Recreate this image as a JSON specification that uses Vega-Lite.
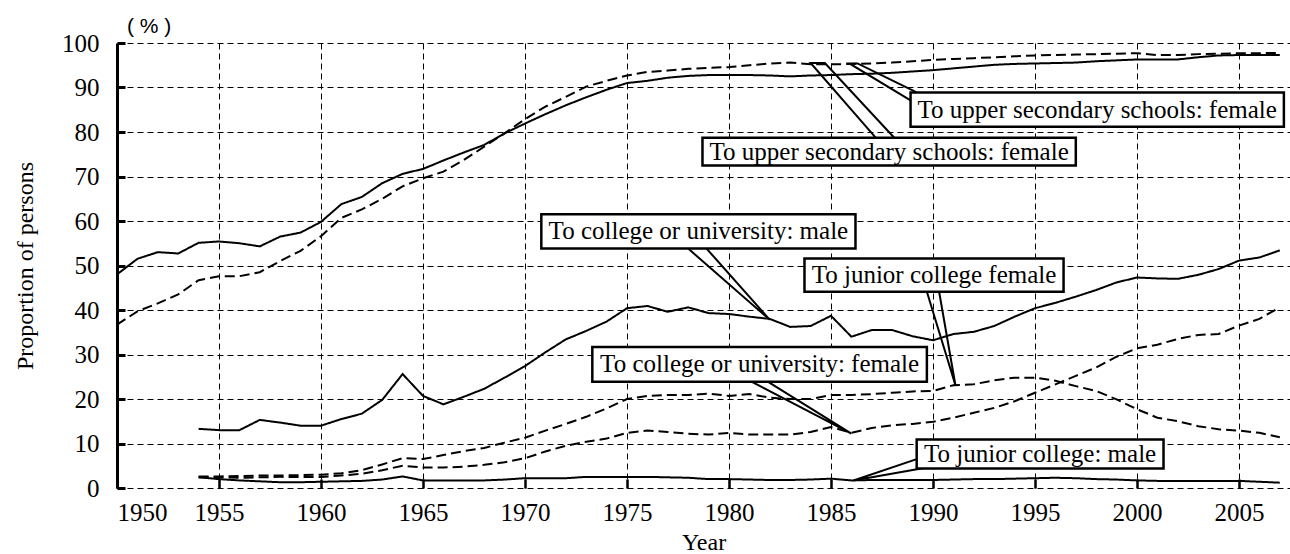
{
  "$schema": "https://vega.github.io/schema/vega-lite/v6.json",
  "width": 1173,
  "height": 445,
  "autosize": {"type": "none"},
  "padding": {"left": 117, "top": 43, "right": 0, "bottom": 66},
  "background": "white",
  "config": {
    "view": {"stroke": null},
    "font": "Liberation Serif, DejaVu Serif, serif"
  },
  "title": {
    "text": "( % )",
    "anchor": "start",
    "frame": "group",
    "font": "Liberation Sans, DejaVu Sans, sans-serif",
    "fontSize": 21,
    "fontWeight": "normal",
    "color": "black",
    "dx": 10,
    "offset": -6
  },
  "datasets": {
    "series": [
      {"year": 1950, "us_m": 48.0, "us_f": 36.7, "cu_m": null, "cu_f": null, "jc_m": null, "jc_f": null},
      {"year": 1951, "us_m": 51.5, "us_f": 39.7, "cu_m": null, "cu_f": null, "jc_m": null, "jc_f": null},
      {"year": 1952, "us_m": 53.0, "us_f": 41.5, "cu_m": null, "cu_f": null, "jc_m": null, "jc_f": null},
      {"year": 1953, "us_m": 52.7, "us_f": 43.5, "cu_m": null, "cu_f": null, "jc_m": null, "jc_f": null},
      {"year": 1954, "us_m": 55.1, "us_f": 46.7, "cu_m": 13.3, "cu_f": 2.4, "jc_m": 2.4, "jc_f": 2.6},
      {"year": 1955, "us_m": 55.4, "us_f": 47.6, "cu_m": 13.0, "cu_f": 2.4, "jc_m": 2.0, "jc_f": 2.6},
      {"year": 1956, "us_m": 55.0, "us_f": 47.6, "cu_m": 13.0, "cu_f": 2.3, "jc_m": 1.7, "jc_f": 2.7},
      {"year": 1957, "us_m": 54.3, "us_f": 48.5, "cu_m": 15.3, "cu_f": 2.4, "jc_m": 1.5, "jc_f": 2.8},
      {"year": 1958, "us_m": 56.5, "us_f": 51.0, "cu_m": 14.7, "cu_f": 2.5, "jc_m": 1.3, "jc_f": 2.8},
      {"year": 1959, "us_m": 57.4, "us_f": 53.3, "cu_m": 14.0, "cu_f": 2.5, "jc_m": 1.3, "jc_f": 2.9},
      {"year": 1960, "us_m": 59.8, "us_f": 56.6, "cu_m": 14.0, "cu_f": 2.5, "jc_m": 1.4, "jc_f": 3.0},
      {"year": 1961, "us_m": 63.8, "us_f": 60.7, "cu_m": 15.5, "cu_f": 2.8, "jc_m": 1.5, "jc_f": 3.3},
      {"year": 1962, "us_m": 65.4, "us_f": 62.6, "cu_m": 16.7, "cu_f": 3.2, "jc_m": 1.6, "jc_f": 4.0},
      {"year": 1963, "us_m": 68.5, "us_f": 65.0, "cu_m": 19.8, "cu_f": 4.0, "jc_m": 1.9, "jc_f": 5.3},
      {"year": 1964, "us_m": 70.6, "us_f": 67.8, "cu_m": 25.6, "cu_f": 5.0, "jc_m": 2.6, "jc_f": 6.7},
      {"year": 1965, "us_m": 71.7, "us_f": 69.6, "cu_m": 20.7, "cu_f": 4.6, "jc_m": 1.7, "jc_f": 6.5},
      {"year": 1966, "us_m": 73.6, "us_f": 71.1, "cu_m": 18.8, "cu_f": 4.6, "jc_m": 1.7, "jc_f": 7.4},
      {"year": 1967, "us_m": 75.4, "us_f": 73.7, "cu_m": 20.5, "cu_f": 4.8, "jc_m": 1.7, "jc_f": 8.3},
      {"year": 1968, "us_m": 77.1, "us_f": 76.7, "cu_m": 22.3, "cu_f": 5.2, "jc_m": 1.7, "jc_f": 9.0},
      {"year": 1969, "us_m": 79.7, "us_f": 79.7, "cu_m": 24.8, "cu_f": 5.8, "jc_m": 1.9, "jc_f": 10.2},
      {"year": 1970, "us_m": 81.9, "us_f": 82.9, "cu_m": 27.4, "cu_f": 6.7, "jc_m": 2.2, "jc_f": 11.3},
      {"year": 1971, "us_m": 84.0, "us_f": 85.7, "cu_m": 30.5, "cu_f": 8.2, "jc_m": 2.2, "jc_f": 12.9},
      {"year": 1972, "us_m": 86.0, "us_f": 87.9, "cu_m": 33.4, "cu_f": 9.5, "jc_m": 2.2, "jc_f": 14.4},
      {"year": 1973, "us_m": 87.8, "us_f": 90.2, "cu_m": 35.3, "cu_f": 10.4, "jc_m": 2.5, "jc_f": 16.0},
      {"year": 1974, "us_m": 89.5, "us_f": 91.5, "cu_m": 37.4, "cu_f": 11.1, "jc_m": 2.5, "jc_f": 17.9},
      {"year": 1975, "us_m": 91.0, "us_f": 92.7, "cu_m": 40.4, "cu_f": 12.4, "jc_m": 2.5, "jc_f": 20.0},
      {"year": 1976, "us_m": 91.5, "us_f": 93.5, "cu_m": 40.9, "cu_f": 12.9, "jc_m": 2.5, "jc_f": 20.7},
      {"year": 1977, "us_m": 92.2, "us_f": 93.8, "cu_m": 39.6, "cu_f": 12.6, "jc_m": 2.4, "jc_f": 20.9},
      {"year": 1978, "us_m": 92.6, "us_f": 94.2, "cu_m": 40.6, "cu_f": 12.2, "jc_m": 2.3, "jc_f": 20.9},
      {"year": 1979, "us_m": 92.8, "us_f": 94.4, "cu_m": 39.3, "cu_f": 12.0, "jc_m": 2.0, "jc_f": 21.2},
      {"year": 1980, "us_m": 92.8, "us_f": 94.6, "cu_m": 39.1, "cu_f": 12.4, "jc_m": 2.0, "jc_f": 20.7},
      {"year": 1981, "us_m": 92.8, "us_f": 95.0, "cu_m": 38.5, "cu_f": 12.0, "jc_m": 1.9, "jc_f": 21.1},
      {"year": 1982, "us_m": 92.7, "us_f": 95.4, "cu_m": 38.0, "cu_f": 12.0, "jc_m": 1.8, "jc_f": 20.3},
      {"year": 1983, "us_m": 92.5, "us_f": 95.6, "cu_m": 36.2, "cu_f": 12.0, "jc_m": 1.8, "jc_f": 20.0},
      {"year": 1984, "us_m": 92.7, "us_f": 95.2, "cu_m": 36.4, "cu_f": 12.6, "jc_m": 1.9, "jc_f": 20.0},
      {"year": 1985, "us_m": 92.8, "us_f": 95.2, "cu_m": 38.7, "cu_f": 13.7, "jc_m": 2.1, "jc_f": 20.9},
      {"year": 1986, "us_m": 93.0, "us_f": 95.3, "cu_m": 34.0, "cu_f": 12.4, "jc_m": 1.7, "jc_f": 20.9},
      {"year": 1987, "us_m": 93.1, "us_f": 95.4, "cu_m": 35.5, "cu_f": 13.5, "jc_m": 1.8, "jc_f": 21.1},
      {"year": 1988, "us_m": 93.3, "us_f": 95.6, "cu_m": 35.5, "cu_f": 14.1, "jc_m": 1.8, "jc_f": 21.4},
      {"year": 1989, "us_m": 93.6, "us_f": 95.9, "cu_m": 34.1, "cu_f": 14.4, "jc_m": 1.8, "jc_f": 21.7},
      {"year": 1990, "us_m": 93.9, "us_f": 96.2, "cu_m": 33.2, "cu_f": 14.9, "jc_m": 1.8, "jc_f": 21.8},
      {"year": 1991, "us_m": 94.3, "us_f": 96.4, "cu_m": 34.6, "cu_f": 15.8, "jc_m": 1.9, "jc_f": 23.1},
      {"year": 1992, "us_m": 94.7, "us_f": 96.6, "cu_m": 35.1, "cu_f": 16.9, "jc_m": 2.0, "jc_f": 23.3},
      {"year": 1993, "us_m": 95.1, "us_f": 96.8, "cu_m": 36.4, "cu_f": 18.0, "jc_m": 2.0, "jc_f": 24.2},
      {"year": 1994, "us_m": 95.3, "us_f": 97.0, "cu_m": 38.5, "cu_f": 19.5, "jc_m": 2.1, "jc_f": 24.8},
      {"year": 1995, "us_m": 95.4, "us_f": 97.2, "cu_m": 40.4, "cu_f": 21.4, "jc_m": 2.2, "jc_f": 24.8},
      {"year": 1996, "us_m": 95.5, "us_f": 97.3, "cu_m": 41.6, "cu_f": 23.3, "jc_m": 2.3, "jc_f": 24.1},
      {"year": 1997, "us_m": 95.6, "us_f": 97.4, "cu_m": 43.0, "cu_f": 25.2, "jc_m": 2.2, "jc_f": 22.9},
      {"year": 1998, "us_m": 95.9, "us_f": 97.5, "cu_m": 44.5, "cu_f": 27.1, "jc_m": 2.0, "jc_f": 21.8},
      {"year": 1999, "us_m": 96.1, "us_f": 97.6, "cu_m": 46.2, "cu_f": 29.5, "jc_m": 1.9, "jc_f": 19.9},
      {"year": 2000, "us_m": 96.3, "us_f": 97.7, "cu_m": 47.3, "cu_f": 31.4, "jc_m": 1.7, "jc_f": 17.7},
      {"year": 2001, "us_m": 96.3, "us_f": 97.3, "cu_m": 47.1, "cu_f": 32.2, "jc_m": 1.6, "jc_f": 15.8},
      {"year": 2002, "us_m": 96.3, "us_f": 97.3, "cu_m": 47.0, "cu_f": 33.5, "jc_m": 1.6, "jc_f": 15.0},
      {"year": 2003, "us_m": 96.8, "us_f": 97.5, "cu_m": 47.9, "cu_f": 34.4, "jc_m": 1.6, "jc_f": 13.9},
      {"year": 2004, "us_m": 97.2, "us_f": 97.6, "cu_m": 49.2, "cu_f": 34.6, "jc_m": 1.6, "jc_f": 13.2},
      {"year": 2005, "us_m": 97.3, "us_f": 97.7, "cu_m": 51.1, "cu_f": 36.5, "jc_m": 1.6, "jc_f": 12.9},
      {"year": 2006, "us_m": 97.3, "us_f": 97.7, "cu_m": 51.8, "cu_f": 38.0, "jc_m": 1.4, "jc_f": 12.4},
      {"year": 2007, "us_m": 97.3, "us_f": 97.8, "cu_m": 53.4, "cu_f": 40.6, "jc_m": 1.2, "jc_f": 11.4}
    ],
    "wedges": [
      {"id": "w1", "ord": 1, "year": 1988.9, "value": 87.1},
      {"id": "w1", "ord": 2, "year": 1985.9, "value": 95.4},
      {"id": "w1", "ord": 3, "year": 1986.3, "value": 95.4},
      {"id": "w1", "ord": 4, "year": 1989.2, "value": 88.9},
      {"id": "w2", "ord": 1, "year": 1987.2, "value": 78.7},
      {"id": "w2", "ord": 2, "year": 1984.0, "value": 95.5},
      {"id": "w2", "ord": 3, "year": 1984.7, "value": 95.5},
      {"id": "w2", "ord": 4, "year": 1988.1, "value": 78.7},
      {"id": "w3", "ord": 1, "year": 1978.0, "value": 53.8},
      {"id": "w3", "ord": 2, "year": 1982.0, "value": 37.8},
      {"id": "w3", "ord": 3, "year": 1978.9, "value": 53.8},
      {"id": "w4", "ord": 1, "year": 1989.7, "value": 44.1},
      {"id": "w4", "ord": 2, "year": 1991.1, "value": 23.1},
      {"id": "w4", "ord": 3, "year": 1990.3, "value": 44.1},
      {"id": "w5", "ord": 1, "year": 1981.1, "value": 23.9},
      {"id": "w5", "ord": 2, "year": 1986.0, "value": 12.2},
      {"id": "w5", "ord": 3, "year": 1981.9, "value": 23.9},
      {"id": "w6", "ord": 1, "year": 1989.2, "value": 6.5},
      {"id": "w6", "ord": 2, "year": 1986.1, "value": 1.7},
      {"id": "w6", "ord": 3, "year": 1989.7, "value": 4.6}
    ],
    "boxes": [
      {"label": "To upper secondary schools: female", "year": 1988.9, "year2": 2007.2, "value": 81.2, "value2": 88.9, "cx": 1998.05, "cy": 85.05},
      {"label": "To upper secondary schools: female", "year": 1978.7, "year2": 1997.0, "value": 72.5, "value2": 78.7, "cx": 1987.85, "cy": 75.6},
      {"label": "To college or university: male", "year": 1970.8, "year2": 1986.2, "value": 53.8, "value2": 61.5, "cx": 1978.5, "cy": 57.65},
      {"label": "To junior college female", "year": 1983.7, "year2": 1996.4, "value": 44.1, "value2": 51.6, "cx": 1990.05, "cy": 47.85},
      {"label": "To college or university: female", "year": 1973.3, "year2": 1989.7, "value": 23.9, "value2": 31.7, "cx": 1981.5, "cy": 27.8},
      {"label": "To junior college: male", "year": 1989.2, "year2": 2001.3, "value": 4.4, "value2": 10.9, "cx": 1995.25, "cy": 7.65}
    ]
  },
  "layer": [
    {
      "data": {"name": "series"},
      "transform": [
        {"fold": ["us_m", "us_f", "cu_m", "cu_f", "jc_m", "jc_f"], "as": ["series", "value"]},
        {"filter": "isValid(datum.value)"}
      ],
      "mark": {"type": "line", "color": "black", "strokeWidth": 2},
      "encoding": {
        "x": {
          "field": "year", "type": "quantitative",
          "scale": {"domain": [1950, 2007.5], "nice": false, "zero": false},
          "axis": {
            "title": "Year",
            "values": [1950, 1955, 1960, 1965, 1970, 1975, 1980, 1985, 1990, 1995, 2000, 2005],
            "format": "d",
            "grid": true, "gridColor": "black", "gridDash": [6, 4], "gridWidth": 1, "gridOpacity": 1,
            "domain": false,
            "ticks": true, "tickSize": -9, "tickWidth": 2.5, "tickColor": "black",
            "labelFont": "Liberation Serif, DejaVu Serif, serif", "labelFontSize": 25, "labelColor": "black", "labelPadding": 21,
            "titleFont": "Liberation Serif, DejaVu Serif, serif", "titleFontSize": 24, "titleFontWeight": "normal", "titleColor": "black", "titlePadding": 5
          }
        },
        "y": {
          "field": "value", "type": "quantitative",
          "scale": {"domain": [0, 100], "nice": false},
          "axis": {
            "title": "Proportion of persons",
            "values": [0, 10, 20, 30, 40, 50, 60, 70, 80, 90, 100],
            "grid": true, "gridColor": "black", "gridDash": [6, 4], "gridWidth": 1, "gridOpacity": 1,
            "domain": true, "domainColor": "black", "domainWidth": 3,
            "ticks": true, "tickSize": -8, "tickWidth": 3, "tickColor": "black",
            "labelFont": "Liberation Serif, DejaVu Serif, serif", "labelFontSize": 25, "labelColor": "black", "labelPadding": 26,
            "titleFont": "Liberation Serif, DejaVu Serif, serif", "titleFontSize": 24, "titleFontWeight": "normal", "titleColor": "black", "titlePadding": 24
          }
        },
        "detail": {"field": "series", "type": "nominal"},
        "strokeDash": {
          "field": "series", "type": "nominal",
          "scale": {"domain": ["us_m", "us_f", "cu_m", "cu_f", "jc_m", "jc_f"], "range": [[1, 0], [10, 5], [1, 0], [10, 5], [1, 0], [10, 5]]},
          "legend": null
        }
      }
    },
    {
      "data": {"name": "wedges"},
      "mark": {"type": "line", "color": "black", "strokeWidth": 2},
      "encoding": {
        "x": {"field": "year", "type": "quantitative"},
        "y": {"field": "value", "type": "quantitative"},
        "detail": {"field": "id", "type": "nominal"},
        "order": {"field": "ord", "type": "quantitative"}
      }
    },
    {
      "data": {"name": "boxes"},
      "mark": {"type": "rect", "fill": "white", "stroke": "black", "strokeWidth": 2.5},
      "encoding": {
        "x": {"field": "year", "type": "quantitative"},
        "x2": {"field": "year2"},
        "y": {"field": "value", "type": "quantitative"},
        "y2": {"field": "value2"}
      }
    },
    {
      "data": {"name": "boxes"},
      "mark": {"type": "text", "font": "Liberation Serif, DejaVu Serif, serif", "fontSize": 25, "color": "black", "align": "center", "baseline": "middle"},
      "encoding": {
        "x": {"field": "cx", "type": "quantitative"},
        "y": {"field": "cy", "type": "quantitative"},
        "text": {"field": "label", "type": "nominal"}
      }
    }
  ]
}
